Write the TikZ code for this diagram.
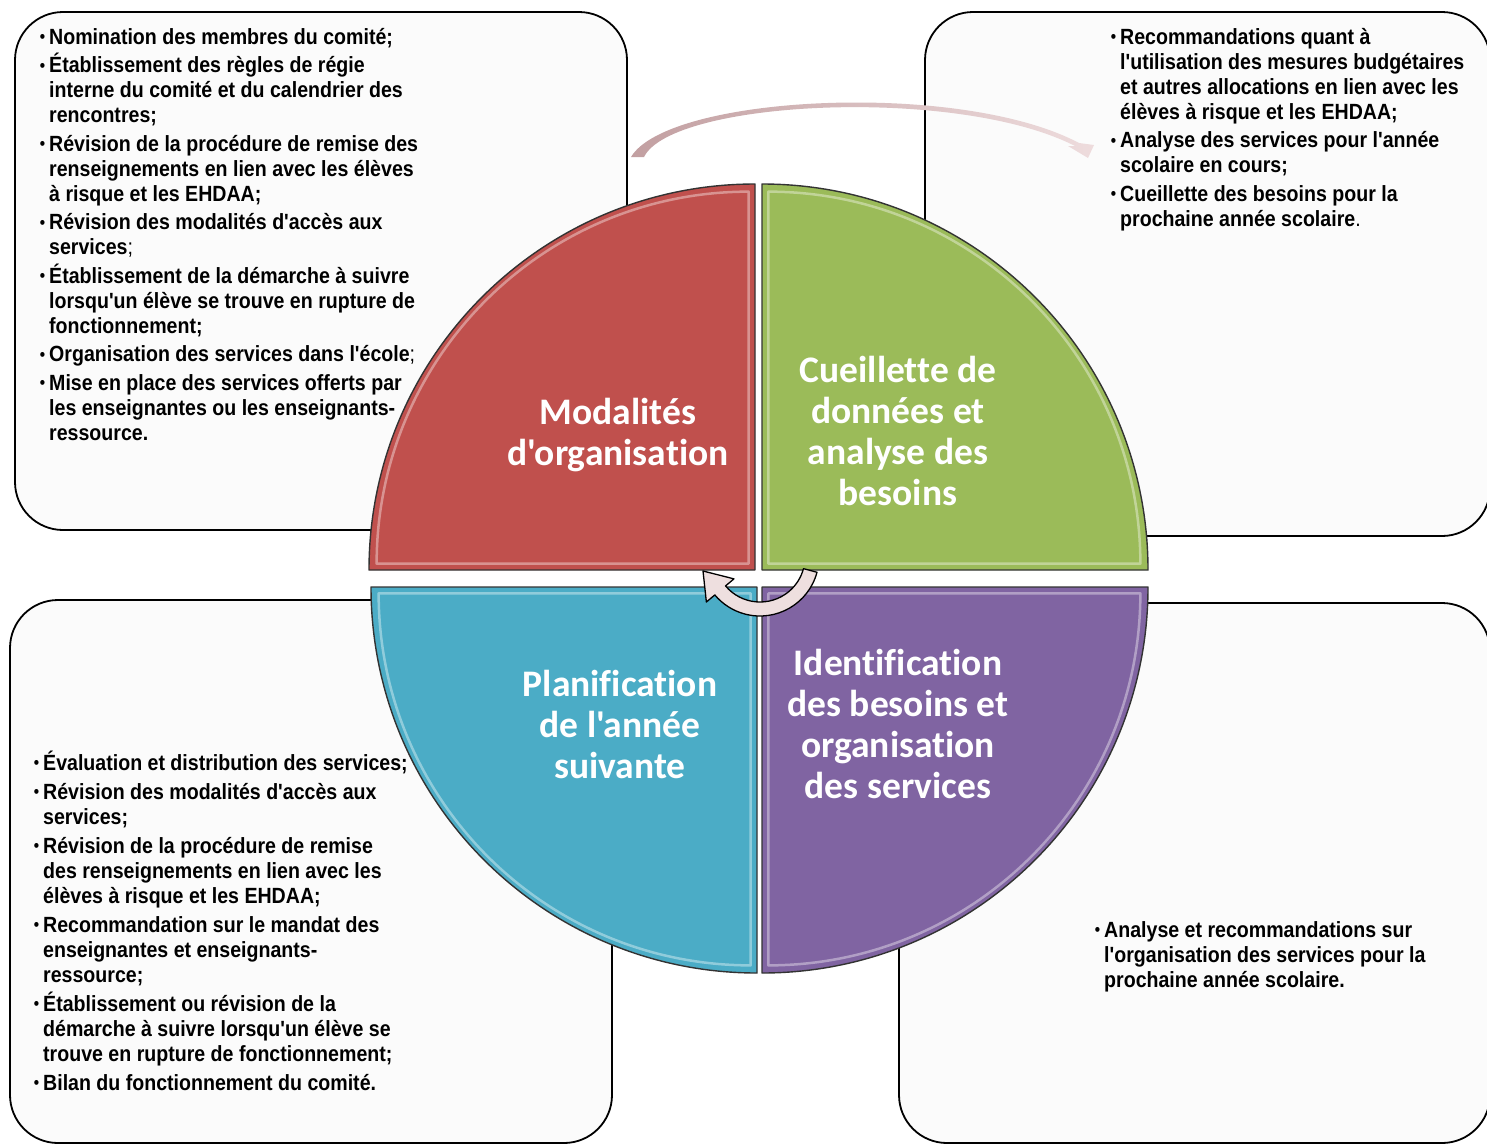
\documentclass[tikz,border=0pt]{standalone}
\usepackage{fontspec}
\setmainfont{Liberation Sans}
\newfontfamily\narrowfont[FakeStretch=0.89]{Liberation Sans}
\newfontfamily\titlefont[Ligatures=NoCommon]{Carlito}
\usetikzlibrary{calc}
\definecolor{modred}{HTML}{C0504D}
\definecolor{cuegreen}{HTML}{9BBB59}
\definecolor{plablue}{HTML}{4BACC6}
\definecolor{idepurple}{HTML}{8064A2}
\definecolor{rotpink}{HTML}{EEDFDF}
\definecolor{arcleft}{HTML}{C29FA1}
\definecolor{arcright}{HTML}{EEDCDD}
\newcommand\itm{\leavevmode\llap{\raisebox{1.5pt}{\fontsize{17pt}{17pt}\selectfont\textbullet}\hspace{4pt}}}
\newcommand\puces[2]{\parbox[t]{#1}{\raggedright\narrowfont\bfseries\fontsize{22pt}{25pt}\selectfont #2}}
\begin{document}
\begin{tikzpicture}[x=1pt,y=1pt,line join=round,line cap=round,
	cadre/.style={draw=black,line width=1.8pt,fill=gray!3,rounded corners=48pt},
	quart/.style={draw=black!80,line width=1.4pt},
	lueur/.style={draw=#1!45!white,line width=2.5pt,opacity=.7},
	titre/.style={text=white,align=center,font=\titlefont\bfseries\fontsize{37.5pt}{41pt}\selectfont},
	liste/.style={anchor=base west,inner sep=0pt}]
	\useasboundingbox (0,0) rectangle (1487,-1146);
	\fill[white] (0,0) rectangle (1487,-1146);
	\clip (0,0) rectangle (1487,-1146);
	\draw[cadre] (15,-12) rectangle (627,-530);
	\draw[cadre] (925,-12) rectangle (1490,-536);
	\draw[cadre] (10,-600) rectangle (612,-1143);
	\draw[cadre] (899,-603) rectangle (1490,-1143);
	\shade[left color=arcleft,right color=arcright]
	(631,-157) .. controls (668,-95) and (960,-80) .. (1079,-143)
	-- (1094,-145) -- (1088,-158) -- (1068,-146) -- (1075,-146)
	.. controls (958,-86) and (672,-100) .. (644,-157) -- cycle;
	\foreach \nm/\col/\cx/\cy/\sa/\ea/\md in {mod/modred/755/570/180/90/135,
		cue/cuegreen/762/570/0/90/45,pla/plablue/757/587/180/270/225,
		ide/idepurple/762/587/0/-90/-45}
	{
		\path (\cx,-\cy) coordinate (\nm);
		\draw[quart,fill=\col] (\nm) -- ++(\sa:386) arc (\sa:\ea:386) -- cycle;
		\draw[lueur=\col] ($(\nm)+(\md:9)$) -- ++(\sa:372) arc (\sa:\ea:372) -- cycle;
	}
	\node[titre] (modt) at (618,-435) {Modalités\\d'organisation};
	\node[titre] (cuet) at (898,-431) {Cueillette de\\données et\\analyse des\\besoins};
	\node[titre] (plat) at (620,-724) {Planification\\de l'année\\suivante};
	\node[titre] (idet) at (898,-724) {Identification\\des besoins et\\organisation\\des services};
	\path (760,-557) coordinate (rot);
	\draw[fill=rotpink,draw=black,line width=1.3pt]
	($(rot)+(-15:59)$) arc (-15:-140:59) -- ($(rot)+(-140:70)$)
	-- ($(rot)+(-57,-14)$) -- ($(rot)+(-140:34)$) -- ($(rot)+(-140:45)$)
	arc (-140:-15:45) -- cycle;
	\node[liste] (tl) at (49,-44) {\puces{420pt}{\itm Nomination des membres du comité;\\[3.5pt]
		\itm Établissement des règles de régie\\
		interne du comité et du calendrier des\\
		rencontres;\\[3.5pt]
		\itm Révision de la procédure de remise des\\
		renseignements en lien avec les élèves\\
		à risque et les EHDAA;\\[3.5pt]
		\itm Révision des modalités d'accès aux\\
		services\textmd{;}\\[3.5pt]
		\itm Établissement de la démarche à suivre\\
		lorsqu'un élève se trouve en rupture de\\
		fonctionnement;\\[3.5pt]
		\itm Organisation des services dans l'école\textmd{;}\\[3.5pt]
		\itm Mise en place des services offerts par\\
		les enseignantes ou les enseignants-\\
		ressource.}};
	\node[liste] (tr) at (1120,-44) {\puces{360pt}{\itm Recommandations quant à\\
		l'utilisation des mesures budgétaires\\
		et autres allocations en lien avec les\\
		élèves à risque et les EHDAA;\\[3.5pt]
		\itm Analyse des services pour l'année\\
		scolaire en cours;\\[3.5pt]
		\itm Cueillette des besoins pour la\\
		prochaine année scolaire\textmd{.}}};
	\node[liste] (bl) at (43,-770) {\puces{420pt}{\itm Évaluation et distribution des services;\\[4pt]
		\itm Révision des modalités d'accès aux\\
		services;\\[4pt]
		\itm Révision de la procédure de remise\\
		des renseignements en lien avec les\\
		élèves à risque et les EHDAA;\\[4pt]
		\itm Recommandation sur le mandat des\\
		enseignantes et enseignants-\\
		ressource;\\[4pt]
		\itm Établissement ou révision de la\\
		démarche à suivre lorsqu'un élève se\\
		trouve en rupture de fonctionnement;\\[4pt]
		\itm Bilan du fonctionnement du comité.}};
	\node[liste] (br) at (1104,-937) {\puces{360pt}{\itm Analyse et recommandations sur\\
		l'organisation des services pour la\\
		prochaine année scolaire.}};
\end{tikzpicture}
\end{document}
